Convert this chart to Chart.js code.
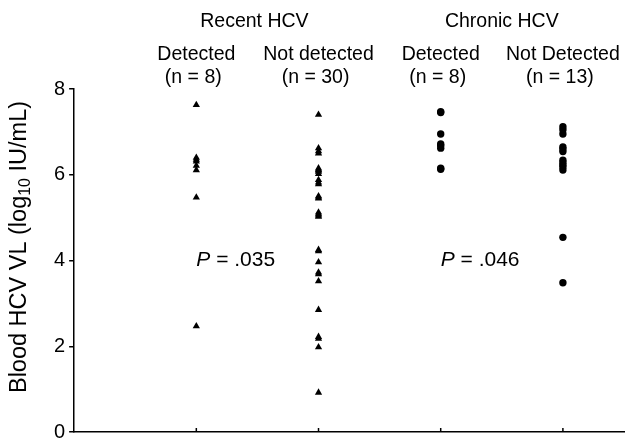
<!DOCTYPE html>
<html><head><meta charset="utf-8">
<script src="https://cdn.jsdelivr.net/npm/chart.js@4.4.1/dist/chart.umd.min.js"></script>
<style>html,body{margin:0;padding:0;background:#fff}#wrap{width:631px;height:441px}</style>
</head><body><div id="wrap"><canvas id="c" width="631" height="441"></canvas></div>
<script>
const groupNames = ["Recent HCV", "Chronic HCV"];
const categories = ["Detected", "Not detected", "Detected", "Not Detected"];
const countLabels = ["(n = 8)", "(n = 30)", "(n = 8)", "(n = 13)"];
const recentDetected = [7.63, 6.40, 6.35, 6.31, 6.21, 6.11, 5.47, 2.47];
const recentNotDetected = [7.40, 6.62, 6.55, 6.50, 6.15, 6.12, 6.10, 6.07, 6.02, 5.88, 5.82, 5.78,
  5.50, 5.47, 5.45, 5.12, 5.08, 5.05, 5.02, 4.25, 4.22, 3.96, 3.72, 3.68, 3.52, 2.85, 2.22, 2.18, 1.98, 0.92];
const chronicDetected = [7.47, 7.45, 6.95, 6.72, 6.68, 6.62, 6.15, 6.13];
const chronicNotDetected = [7.12, 7.05, 6.95, 6.65, 6.60, 6.54, 6.34, 6.28, 6.23, 6.18, 6.11, 4.54, 3.48];
const pValues = ["P = .035", "P = .046"];
const pAtValue = 4;
const yTicks = [0, 2, 4, 6, 8];

const FONT = "'Liberation Sans', Arial, sans-serif";
function pts(arr, xi){ return arr.map(v => ({x: xi, y: v})); }

const textPlugin = {
  id: 'texts',
  afterDraw(chart){
    const ctx = chart.ctx, xs = chart.scales.x, ys = chart.scales.y, ca = chart.chartArea;
    ctx.save();
    ctx.fillStyle = '#000';
    ctx.textAlign = 'center';
    ctx.textBaseline = 'middle';
    ctx.font = '19.5px ' + FONT;
    ctx.fillText(groupNames[0], (xs.getPixelForValue(1)+xs.getPixelForValue(2))/2 - 3, 22);
    ctx.fillText(groupNames[1], (xs.getPixelForValue(3)+xs.getPixelForValue(4))/2, 22);
    categories.forEach((c,i) => {
      const x = xs.getPixelForValue(i+1);
      ctx.fillText(c, x, 55);
      ctx.fillText(countLabels[i], x - 3, 78);
    });
    ctx.strokeStyle = '#000'; ctx.lineWidth = 1.5;
    for (let i=1;i<=4;i++){
      const x = xs.getPixelForValue(i);
      ctx.beginPath(); ctx.moveTo(x, ca.bottom); ctx.lineTo(x, ca.bottom-4); ctx.stroke();
    }
    const py = ys.getPixelForValue(pAtValue);
    [1,3].forEach((xi, k) => {
      const x0 = xs.getPixelForValue(xi);
      const parts = pValues[k].split(' ');
      ctx.textAlign = 'left';
      ctx.font = 'italic 21px ' + FONT;
      ctx.fillText(parts[0], x0, py);
      let w = ctx.measureText(parts[0]).width;
      ctx.font = '21px ' + FONT;
      ctx.fillText(' ' + parts.slice(1).join(' '), x0 + w, py);
    });
    ctx.translate(20, 247);
    ctx.rotate(-Math.PI/2);
    const a = 'Blood HCV VL (log', sub = '10', b = ' IU/mL)';
    ctx.font = '23.5px ' + FONT;
    const wa = ctx.measureText(a).width, wb = ctx.measureText(b).width;
    ctx.font = '16px ' + FONT;
    const ws = ctx.measureText(sub).width;
    let x = -(wa+ws+wb)/2;
    ctx.textAlign = 'left';
    ctx.font = '23.5px ' + FONT; ctx.fillText(a, x, 0); x += wa;
    ctx.font = '16px ' + FONT; ctx.fillText(sub, x, 6); x += ws;
    ctx.font = '23.5px ' + FONT; ctx.fillText(b, x, 0);
    ctx.restore();
  }
};

const tri = {pointStyle:'triangle', pointRadius:4.2, backgroundColor:'#000', borderColor:'#000', borderWidth:0};
const dot = {pointStyle:'circle', pointRadius:3.7, backgroundColor:'#000', borderColor:'#000', borderWidth:0};

new Chart(document.getElementById('c'), {
  type: 'scatter',
  data: { datasets: [
    Object.assign({label: categories[0], data: pts(recentDetected, 1)}, tri),
    Object.assign({label: categories[1], data: pts(recentNotDetected, 2)}, tri),
    Object.assign({label: categories[2], data: pts(chronicDetected, 3)}, dot),
    Object.assign({label: categories[3], data: pts(chronicNotDetected, 4)}, dot)
  ]},
  options: {
    responsive: false, animation: false, devicePixelRatio: 1,
    layout: { padding: { left: 50, top: 89, right: 7, bottom: 9 } },
    plugins: { legend: {display:false}, tooltip: {enabled:false} },
    scales: {
      x: { type:'linear', min:0, max:4.5,
        afterFit(s){ s.height = 0; s.paddingBottom = 0; s.paddingTop = 0; },
        ticks: {display:false},
        grid: {display:false, drawTicks:false},
        border: {color:'#000', width:1.5} },
      y: { min:0, max:8,
        afterFit(s){ s.paddingBottom = 0; },
        afterBuildTicks(s){ s.ticks = yTicks.map(v => ({value:v})); },
        ticks: { color:'#000', font:{family:FONT, size:20}, padding:4 },
        grid: { drawOnChartArea:false, drawTicks:true, tickLength:5, color:'#000', lineWidth:1.5 },
        border: {color:'#000', width:1.5} }
    }
  },
  plugins: [textPlugin]
});
</script></body></html>
